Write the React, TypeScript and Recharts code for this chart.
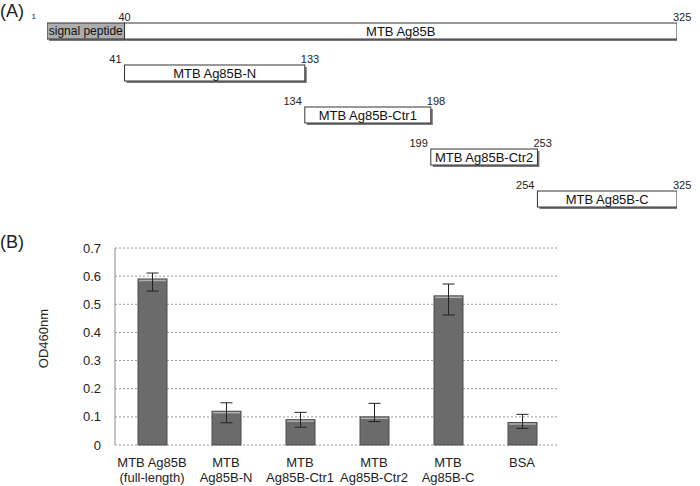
import { Bar, BarChart, CartesianGrid, ErrorBar, Label, LabelList, XAxis, YAxis } from "recharts"

// (A) fragment map, residue numbers
const fragmentNames = ["MTB Ag85B", "MTB Ag85B-N", "MTB Ag85B-Ctr1", "MTB Ag85B-Ctr2", "MTB Ag85B-C"]
const fragmentStart = [41, 41, 134, 199, 254]
const fragmentEnd = [325, 133, 198, 253, 325]
const hasSignal = [true, false, false, false, false]
const signalName = "signal peptide"
const signalStart = 1
const signalEnd = 40
const proteinLength = 325

// (B) ELISA
const constructs = ["MTB Ag85B\n(full-length)", "MTB\nAg85B-N", "MTB\nAg85B-Ctr1", "MTB\nAg85B-Ctr2", "MTB\nAg85B-C", "BSA"]
const od460 = [0.59, 0.12, 0.09, 0.10, 0.53, 0.08]
const errLow = [0.043, 0.041, 0.027, 0.017, 0.068, 0.021]
const errHigh = [0.021, 0.03, 0.026, 0.048, 0.042, 0.029]
const yTicks = [0, 0.1, 0.2, 0.3, 0.4, 0.5, 0.6, 0.7]

const FONT = "'Liberation Sans', Arial, sans-serif"

const fragmentRows = fragmentNames.map((name, i) => ({
    name,
    domain: [fragmentStart[i] - 1, fragmentEnd[i]],
    startLabel: hasSignal[i] ? null : String(fragmentStart[i]),
    endLabel: String(fragmentEnd[i]),
    signal: hasSignal[i] ? [signalStart - 1, signalEnd] : null,
    signalName: hasSignal[i] ? signalName : null,
    signalStartLabel: hasSignal[i] ? String(signalStart) : null,
    signalEndLabel: hasSignal[i] ? String(signalEnd) : null,
}))

const elisaData = constructs.map((name, i) => ({
    name,
    od: od460[i],
    err: [errLow[i], errHigh[i]],
}))

const boxShape = (fill: string) => (props: any) => {
    const { x, y, width, height } = props
    if (!width || !isFinite(width) || !isFinite(x)) return <g />
    return (
        <g>
            <rect x={x + 2} y={y + 2} width={width} height={height} fill="#7a7a7a" />
            <rect x={x} y={y} width={width} height={height} fill={fill} stroke="#333" strokeWidth={1} />
        </g>
    )
}

const numLabel = (side: "left" | "right", anchor: "start" | "end" | "middle", dx: number, size: number, dy = -2) => (props: any) => {
    const vb = props.viewBox ?? props
    const value = props.value
    if (value == null || vb == null || !vb.width) return null
    const x = side === "right" ? vb.x + vb.width + dx : vb.x + dx
    return (
        <text x={x} y={vb.y + dy} textAnchor={anchor} fontSize={size} fill="#222" fontFamily={FONT}>
            {value}
        </text>
    )
}

// box caption, kept on one line
const boxCaption = (size: number) => (props: any) => {
    const vb = props.viewBox ?? props
    const value = props.value
    if (value == null || vb == null || !vb.width) return null
    return (
        <text x={vb.x + vb.width / 2} y={vb.y + vb.height / 2} textAnchor="middle" dominantBaseline="central" fontSize={size} fill="#111" fontFamily={FONT}>
            {value}
        </text>
    )
}

const ElisaBar = (props: any) => {
    const { x, y, width, height } = props
    if (!height || !isFinite(height)) return <g />
    return (
        <g>
            <rect x={x} y={y} width={width} height={height} fill="#6b6b6b" stroke="#4d4d4d" strokeWidth={1} />
            <line x1={x + 1} x2={x + width - 1} y1={y + 1.5} y2={y + 1.5} stroke="#b0b0b0" strokeWidth={1.5} />
        </g>
    )
}

const ConstructTick = (props: any) => {
    const { x, y, payload } = props
    const lines = String(payload.value).split("\n")
    return (
        <text x={x} y={y + 20} textAnchor="middle" fontSize={13} fill="#222" fontFamily={FONT}>
            {lines.map((l, i) => (
                <tspan key={i} x={x} dy={i === 0 ? 0 : 15}>{l}</tspan>
            ))}
        </text>
    )
}

const yLabel = (props: any) => {
    const vb = props.viewBox
    const cx = vb.x + 43
    const cy = vb.y + vb.height / 2 - 8
    return (
        <text x={cx} y={cy} transform={`rotate(-90 ${cx} ${cy})`} textAnchor="middle" dominantBaseline="central" fontSize={13} fill="#222" fontFamily={FONT}>
            OD460nm
        </text>
    )
}

export default function App() {
    return (
        <div style={{ position: "absolute", left: 0, top: 0, width: 700, height: 486, background: "#fff", fontFamily: FONT, overflow: "hidden" }}>
            <div style={{ position: "absolute", left: 0, top: 1, fontSize: 18, lineHeight: "20px", color: "#222" }}>(A)</div>
            <div style={{ position: "absolute", left: 0, top: 232, fontSize: 18, lineHeight: "20px", color: "#222" }}>(B)</div>

            <div style={{ position: "absolute", left: 0, top: 0 }}>
                <BarChart
                    width={700}
                    height={222}
                    data={fragmentRows}
                    layout="vertical"
                    margin={{ top: 10, right: 23, left: 47, bottom: 2 }}
                    barGap={-16}
                >
                    <XAxis type="number" domain={[0, proteinLength]} hide allowDataOverflow />
                    <YAxis type="category" dataKey="name" hide />
                    <Bar dataKey="signal" barSize={16} isAnimationActive={false} shape={boxShape("#adadad")}>
                        <LabelList dataKey="signalName" content={boxCaption(12)} />
                        <LabelList dataKey="signalStartLabel" content={numLabel("left", "end", -11, 8, -4)} />
                        <LabelList dataKey="signalEndLabel" content={numLabel("right", "middle", 0, 11)} />
                    </Bar>
                    <Bar dataKey="domain" barSize={16} isAnimationActive={false} shape={boxShape("#ffffff")}>
                        <LabelList dataKey="name" content={boxCaption(13)} />
                        <LabelList dataKey="startLabel" content={numLabel("left", "end", -3, 11)} />
                        <LabelList dataKey="endLabel" content={numLabel("right", "start", -4, 11)} />
                    </Bar>
                </BarChart>
            </div>

            <div style={{ position: "absolute", left: 0, top: 230 }}>
                <BarChart
                    width={700}
                    height={256}
                    data={elisaData}
                    margin={{ top: 18, right: 141, left: 0, bottom: 0 }}
                >
                    <CartesianGrid vertical={false} stroke="#9a9a9a" strokeDasharray="2 2" />
                    <XAxis
                        xAxisId="frame"
                        type="number"
                        domain={[0, constructs.length]}
                        ticks={constructs.map((_, i) => i).concat(constructs.length)}
                        allowDataOverflow
                        height={0}
                        tick={false}
                        tickSize={5}
                        tickLine={{ stroke: "#888" }}
                        axisLine={{ stroke: "#888" }}
                    />
                    <XAxis
                        dataKey="name"
                        height={41}
                        axisLine={false}
                        tickLine={false}
                        tickSize={0}
                        interval={0}
                        tick={<ConstructTick />}
                    />
                    <YAxis
                        width={115}
                        domain={[0, 0.7]}
                        ticks={yTicks}
                        tickFormatter={(v: number) => (v === 0 ? "0" : v.toFixed(1))}
                        tick={{ fontSize: 13, fill: "#222", fontFamily: FONT }}
                        tickLine={false}
                        tickSize={0}
                        tickMargin={14}
                        axisLine={{ stroke: "#888" }}
                    >
                        <Label content={yLabel} />
                    </YAxis>
                    <Bar dataKey="od" barSize={29} isAnimationActive={false} shape={ElisaBar}>
                        <ErrorBar dataKey="err" width={6} stroke="#222" strokeWidth={1} />
                    </Bar>
                </BarChart>
            </div>
        </div>
    )
}
